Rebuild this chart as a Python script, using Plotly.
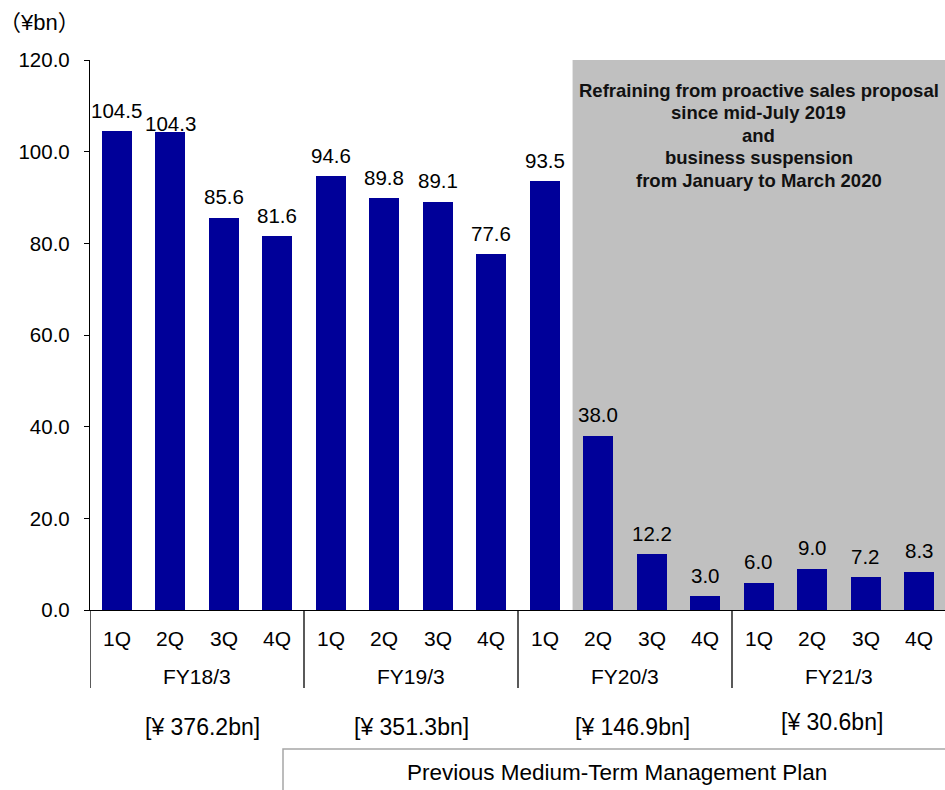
import plotly.graph_objects as go

# ---- data ----
quarters = ["1Q", "2Q", "3Q", "4Q"] * 4
fiscal_years = ["FY18/3", "FY19/3", "FY20/3", "FY21/3"]
values = [104.5, 104.3, 85.6, 81.6,
          94.6, 89.8, 89.1, 77.6,
          93.5, 38.0, 12.2, 3.0,
          6.0, 9.0, 7.2, 8.3]
annual_totals = ["[¥ 376.2bn]", "[¥ 351.3bn]", "[¥ 146.9bn]", "[¥ 30.6bn]"]
y_ticks = [0, 20, 40, 60, 80, 100, 120]
unit_label = "（¥bn）"
note_lines = ["Refraining from proactive sales proposal",
              "since mid-July 2019",
              "and",
              "business suspension",
              "from January to March 2020"]
plan_label = "Previous Medium-Term Management Plan"

# ---- style ----
FONT = "Liberation Sans, Arial, Noto Sans CJK JP, sans-serif"
BAR = "#000099"
GREY = "#C0C0C0"
W, H = 945, 790
ML, MT, MB = 90, 60, 180
PLOT_H = H - MT - MB
PLOT_W = W - ML


def py(pix):
    """pixel row -> paper y"""
    return (H - MB - pix) / PLOT_H


def px(pix):
    return (pix - ML) / PLOT_W


n = len(values)
x_idx = list(range(n))
slot = 53.5
x_max = -0.5 + PLOT_W / slot

fig = go.Figure()
fig.add_trace(go.Bar(x=x_idx, y=values, width=0.56,
                     marker=dict(color=BAR, line=dict(width=0)),
                     hoverinfo="skip"))

shapes = []
# shaded period
shapes.append(dict(type="rect", xref="x", yref="y", x0=8.52, x1=x_max,
                   y0=0, y1=120, fillcolor=GREY, line=dict(width=0),
                   layer="below"))
# group separators below axis
for g in range(len(fiscal_years)):
    xs = g * 4 - 0.5
    shapes.append(dict(type="line", xref="x", yref="paper", x0=xs, x1=xs,
                       y0=0, y1=py(688), line=dict(color="black", width=1.3)))
# plan box
shapes.append(dict(type="rect", xref="paper", yref="paper",
                   x0=px(283), x1=1.05, y0=py(749), y1=py(820),
                   line=dict(color="#A6A6A6", width=1.5),
                   fillcolor="rgba(0,0,0,0)"))

annotations = []
label_shift = {1: 8}
for i, v in enumerate(values):
    annotations.append(dict(x=i, y=v, xref="x", yref="y",
                            text=f"{v:.1f}", showarrow=False,
                            yanchor="middle", yshift=label_shift.get(i, 21),
                            font=dict(size=20.5, color="black", family=FONT)))
for i, q in enumerate(quarters):
    annotations.append(dict(x=i, y=py(638), xref="x", yref="paper",
                            text=q, showarrow=False, yanchor="middle",
                            font=dict(size=21, color="black", family=FONT)))
for g, fy in enumerate(fiscal_years):
    annotations.append(dict(x=g * 4 + 1.5, y=py(676), xref="x", yref="paper",
                            text=fy, showarrow=False, yanchor="middle",
                            font=dict(size=21, color="black", family=FONT)))
tot_dx = [5, 0, 7, -7]
tot_y = [727, 727, 727, 722]
for g, t in enumerate(annual_totals):
    annotations.append(dict(x=g * 4 + 1.5, y=py(tot_y[g]), xref="x", yref="paper",
                            text=t, showarrow=False, yanchor="middle",
                            xshift=tot_dx[g],
                            font=dict(size=23, color="black", family=FONT)))
annotations.append(dict(x=px(617), y=py(772.5), xref="paper", yref="paper",
                        text=plan_label, showarrow=False, yanchor="middle",
                        font=dict(size=22.5, color="black", family=FONT)))
annotations.append(dict(x=px(-3), y=py(23), xref="paper", yref="paper",
                        text=unit_label, showarrow=False, yanchor="middle",
                        xanchor="left",
                        font=dict(size=22, color="black", family=FONT)))
note_y = [90, 112.5, 135, 157.5, 180]
for s, yy in zip(note_lines, note_y):
    annotations.append(dict(x=(8.52 + x_max) / 2, y=py(yy), xref="x", yref="paper",
                            text=f"<b>{s}</b>", showarrow=False,
                            yanchor="middle", align="center",
                            font=dict(size=18.5, color="#111111", family=FONT)))

fig.update_layout(
    width=W, height=H,
    margin=dict(l=ML, r=0, t=MT, b=MB, pad=0),
    paper_bgcolor="white", plot_bgcolor="white",
    showlegend=False, bargap=0,
    font=dict(family=FONT, color="black", size=20.5),
    shapes=shapes, annotations=annotations,
    xaxis=dict(range=[-0.5, x_max], tickvals=x_idx, ticktext=quarters,
               showticklabels=False,
               showgrid=False, zeroline=False, showline=True,
               linecolor="black", linewidth=1.3, ticks=""),
    yaxis=dict(range=[0, 120], tickvals=y_ticks,
               ticktext=[f"{t:.1f}" for t in y_ticks],
               showgrid=False, zeroline=False, showline=True,
               linecolor="black", linewidth=1.3, ticks="outside",
               ticklen=5, tickcolor="black", tickwidth=1.3,
               ticklabelstandoff=10,
               tickfont=dict(size=20.5, color="black", family=FONT)),
)

fig.write_html("out.html")
